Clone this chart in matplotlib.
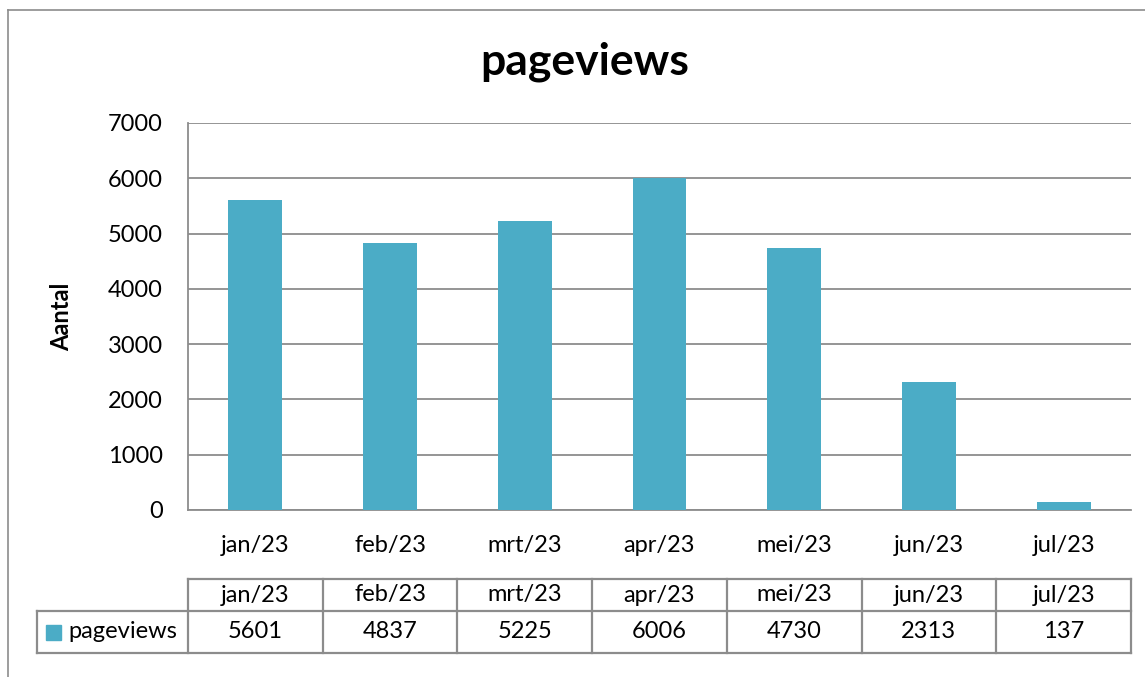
import numpy as np
import matplotlib
matplotlib.use("Agg")
from matplotlib import pyplot as plt
from matplotlib.transforms import blended_transform_factory
from matplotlib.patches import Rectangle
from matplotlib.lines import Line2D

plt.rcParams['font.family'] = ['Lato', 'DejaVu Sans']

months = ['jan/23', 'feb/23', 'mrt/23', 'apr/23', 'mei/23', 'jun/23', 'jul/23']
pageviews = [5601, 4837, 5225, 6006, 4730, 2313, 137]
y_ticks = [0, 1000, 2000, 3000, 4000, 5000, 6000, 7000]
series_name = 'pageviews'

bar_color = '#4BACC6'
line_color = '#8C8C8C'

W, H = 1145, 677
fig = plt.figure(figsize=(W / 100, H / 100), dpi=100)


def fy(py):
    # pixel row from the top -> figure fraction
    return 1 - py / H


# chart border (runs off the right and bottom edges)
fig.add_artist(Line2D([8 / W, 8 / W], [fy(10), 0], transform=fig.transFigure,
                      color=line_color, lw=1.2))
fig.add_artist(Line2D([8 / W, 1], [fy(10), fy(10)], transform=fig.transFigure,
                      color=line_color, lw=1.2))

left, right, top, bottom = 188, 1131, 123, 510
ax = fig.add_axes([left / W, fy(bottom), (right - left) / W, (bottom - top) / H])

x = np.arange(len(months))
ax.bar(x, pageviews, width=0.4, color=bar_color, zorder=3)
ax.set_xlim(-0.5, len(months) - 0.5)
ax.set_ylim(0, 7000)
ax.set_yticks(y_ticks)
ax.set_yticklabels([str(t) for t in y_ticks], fontsize=17)
ax.set_xticks(x)
ax.set_xticklabels(months, fontsize=17)
ax.tick_params(axis='y', length=0, pad=18)
ax.tick_params(axis='x', length=0, pad=18)
ax.grid(axis='y', color=line_color, lw=1.3, zorder=0)
for side in ['top', 'right']:
    ax.spines[side].set_visible(False)
ax.spines['left'].set_color(line_color)
ax.spines['bottom'].set_color(line_color)
ax.spines['left'].set_linewidth(1.3)
ax.spines['bottom'].set_linewidth(1.3)

ax.set_ylabel('Aantal', fontsize=17, fontweight='bold')
ax.yaxis.set_label_coords((73 - left) / (right - left), 0.5)
fig.text(585 / W, fy(62), 'pageviews', ha='center', va='center',
         fontsize=32, fontweight='bold')

# data table below the chart
tr = blended_transform_factory(ax.transData, fig.transFigure)
row_top, row_mid, row_bot = fy(579), fy(611), fy(653)
n = len(months)
legend_left = -0.5 - (left - 37) / ((right - left) / n)


def hline(x0, x1, y):
    fig.add_artist(Line2D([x0, x1], [y, y], transform=tr, color=line_color, lw=1.6))


def vline(xx, y0, y1):
    fig.add_artist(Line2D([xx, xx], [y0, y1], transform=tr, color=line_color, lw=1.6))


hline(-0.5, n - 0.5, row_top)
hline(legend_left, n - 0.5, row_mid)
hline(legend_left, n - 0.5, row_bot)
vline(legend_left, row_mid, row_bot)
for i in range(n + 1):
    vline(i - 0.5, row_top, row_bot)

for i, (m, v) in enumerate(zip(months, pageviews)):
    fig.text(i, (row_top + row_mid) / 2, m, transform=tr, ha='center',
             va='center', fontsize=17)
    fig.text(i, (row_mid + row_bot) / 2, str(v), transform=tr, ha='center',
             va='center', fontsize=17)

key_x = legend_left + 0.07
fig.add_artist(Rectangle((key_x, fy(640)), 0.11, (fy(625) - fy(640)),
                         transform=tr, color=bar_color))
fig.text(key_x + 0.16, (row_mid + row_bot) / 2, series_name, transform=tr,
         ha='left', va='center', fontsize=17)

fig.savefig('out.png', dpi=100)
